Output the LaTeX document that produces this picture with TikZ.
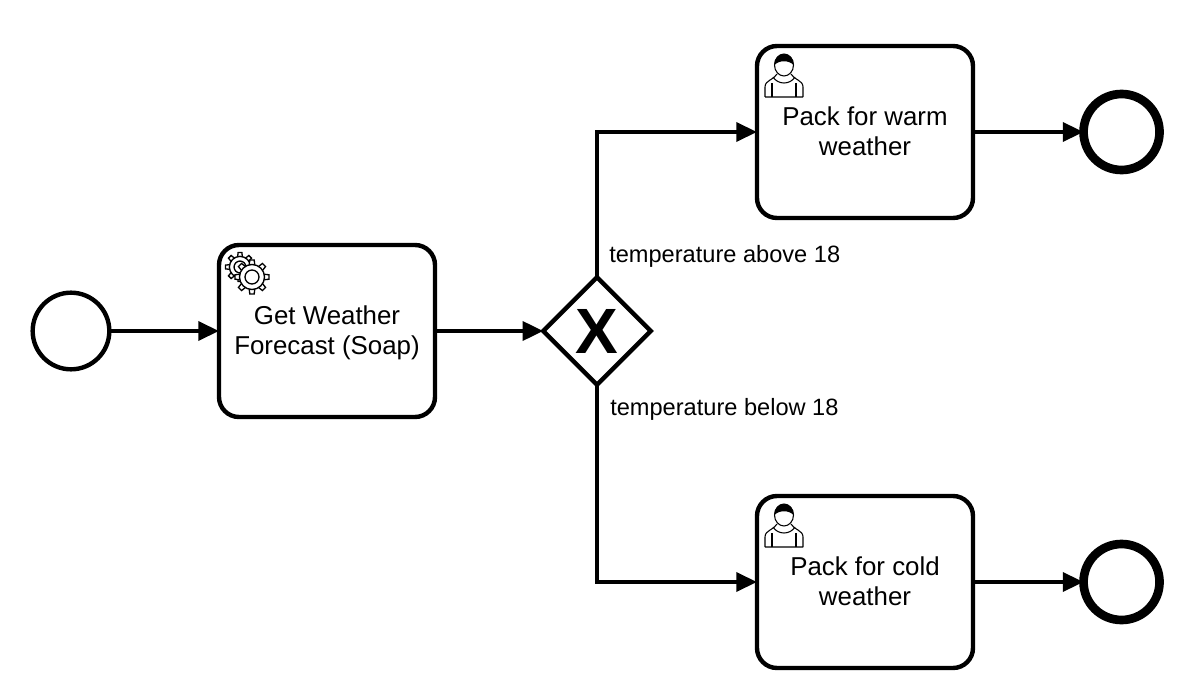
\documentclass[tikz,border=0pt]{standalone}
\usepackage{fontspec}
\setmainfont{Liberation Sans}
\usetikzlibrary{shapes.geometric,arrows.meta}

\tikzset{
  flow/.style={line width=3.3pt,-{Triangle[length=15.5pt,width=14pt]}},
  task/.style={rectangle,draw,line width=3.3pt,rounded corners=15pt,minimum width=162pt,minimum height=129pt,outer sep=0pt,inner sep=0pt,text depth=1pt,align=center,font=\fontsize{19.4}{22.5}\selectfont},
  startev/.style={circle,draw,line width=3.3pt,minimum size=57.5pt,outer sep=0pt,inner sep=0pt},
  endev/.style={circle,draw,line width=6.5pt,minimum size=57pt,outer sep=0pt,inner sep=0pt},
  gateway/.style={diamond,draw,line width=3.3pt,minimum size=80.5pt,outer sep=0pt,inner sep=0pt,font=\fontsize{48}{48}\selectfont\bfseries},
  guard/.style={anchor=west,inner sep=0pt,font=\fontsize{17.7}{20}\selectfont},
  gearwheel/.pic={
    \foreach \a in {0,45,...,315}
      \draw [line width=1pt,fill=white,rotate=\a] (-3,10) -- (-2.2,17) -- (2.2,17) -- (3,10) -- cycle;
    \draw [line width=1pt,fill=white] (0,0) circle (12.5);
    \draw [line width=1pt,fill=white] (0,0) circle (7);
  },
  gearicon/.pic={
    \pic [scale=.85] at (-12,-10) {gearwheel};
    \pic at (0,0) {gearwheel};
  },
  usericon/.pic={
    \draw [line width=.8pt] (-19,32) -- (-19,22) .. controls (-19,15) and (-10,15) .. (-7,9) (19,32) -- (19,22) .. controls (19,15) and (10,15) .. (7,9) (-19,32) -- (19,32);
    \draw [line width=.8pt] (-12,32) -- (-12,18) (12,32) -- (12,18);
    \draw [line width=.8pt] (-11,12) .. controls (-6,20) and (6,20) .. (11,12);
    \draw [line width=.8pt,fill=white] (0,0) ellipse (9.5 and 11);
    \fill (-9.5,0) .. controls (-9.5,-14.5) and (9.5,-14.5) .. (9.5,0) .. controls (5,-5) and (-5,-5) .. (-9.5,0);
  }
}

\begin{document}
\begin{tikzpicture}[x=.75pt,y=-.75pt]
\useasboundingbox (0,0) rectangle (1200,688);
\node [startev] (start) at (71,331) {};
\node [task,right=82.25pt,at=(start.east)] (forecast) {Get Weather\\Forecast (Soap)};
\node [gateway,right=81.25pt,at=(forecast.east)] (gate) {X};
\node [task] (warm) at (865,132) {Pack for warm\\weather};
\node [task] (cold) at (865,582) {Pack for cold\\weather};
\node [endev,right=82.9pt,at=(warm.east)] (warmend) {};
\node [endev,right=82.9pt,at=(cold.east)] (coldend) {};
\node [guard] (above) at (609,256) {temperature above 18};
\node [guard] (below) at (610,409) {temperature below 18};

\pic at (252,277) {gearicon};
\pic at (784,65) {usericon};
\pic at (784,515) {usericon};

\draw [flow] (start) -- (forecast);
\draw [flow] (forecast) -- (gate);
\draw [flow] (gate.north) |- (warm.west);
\draw [flow] (gate.south) |- (cold.west);
\draw [flow] (warm) -- (warmend);
\draw [flow] (cold) -- (coldend);
\end{tikzpicture}
\end{document}
